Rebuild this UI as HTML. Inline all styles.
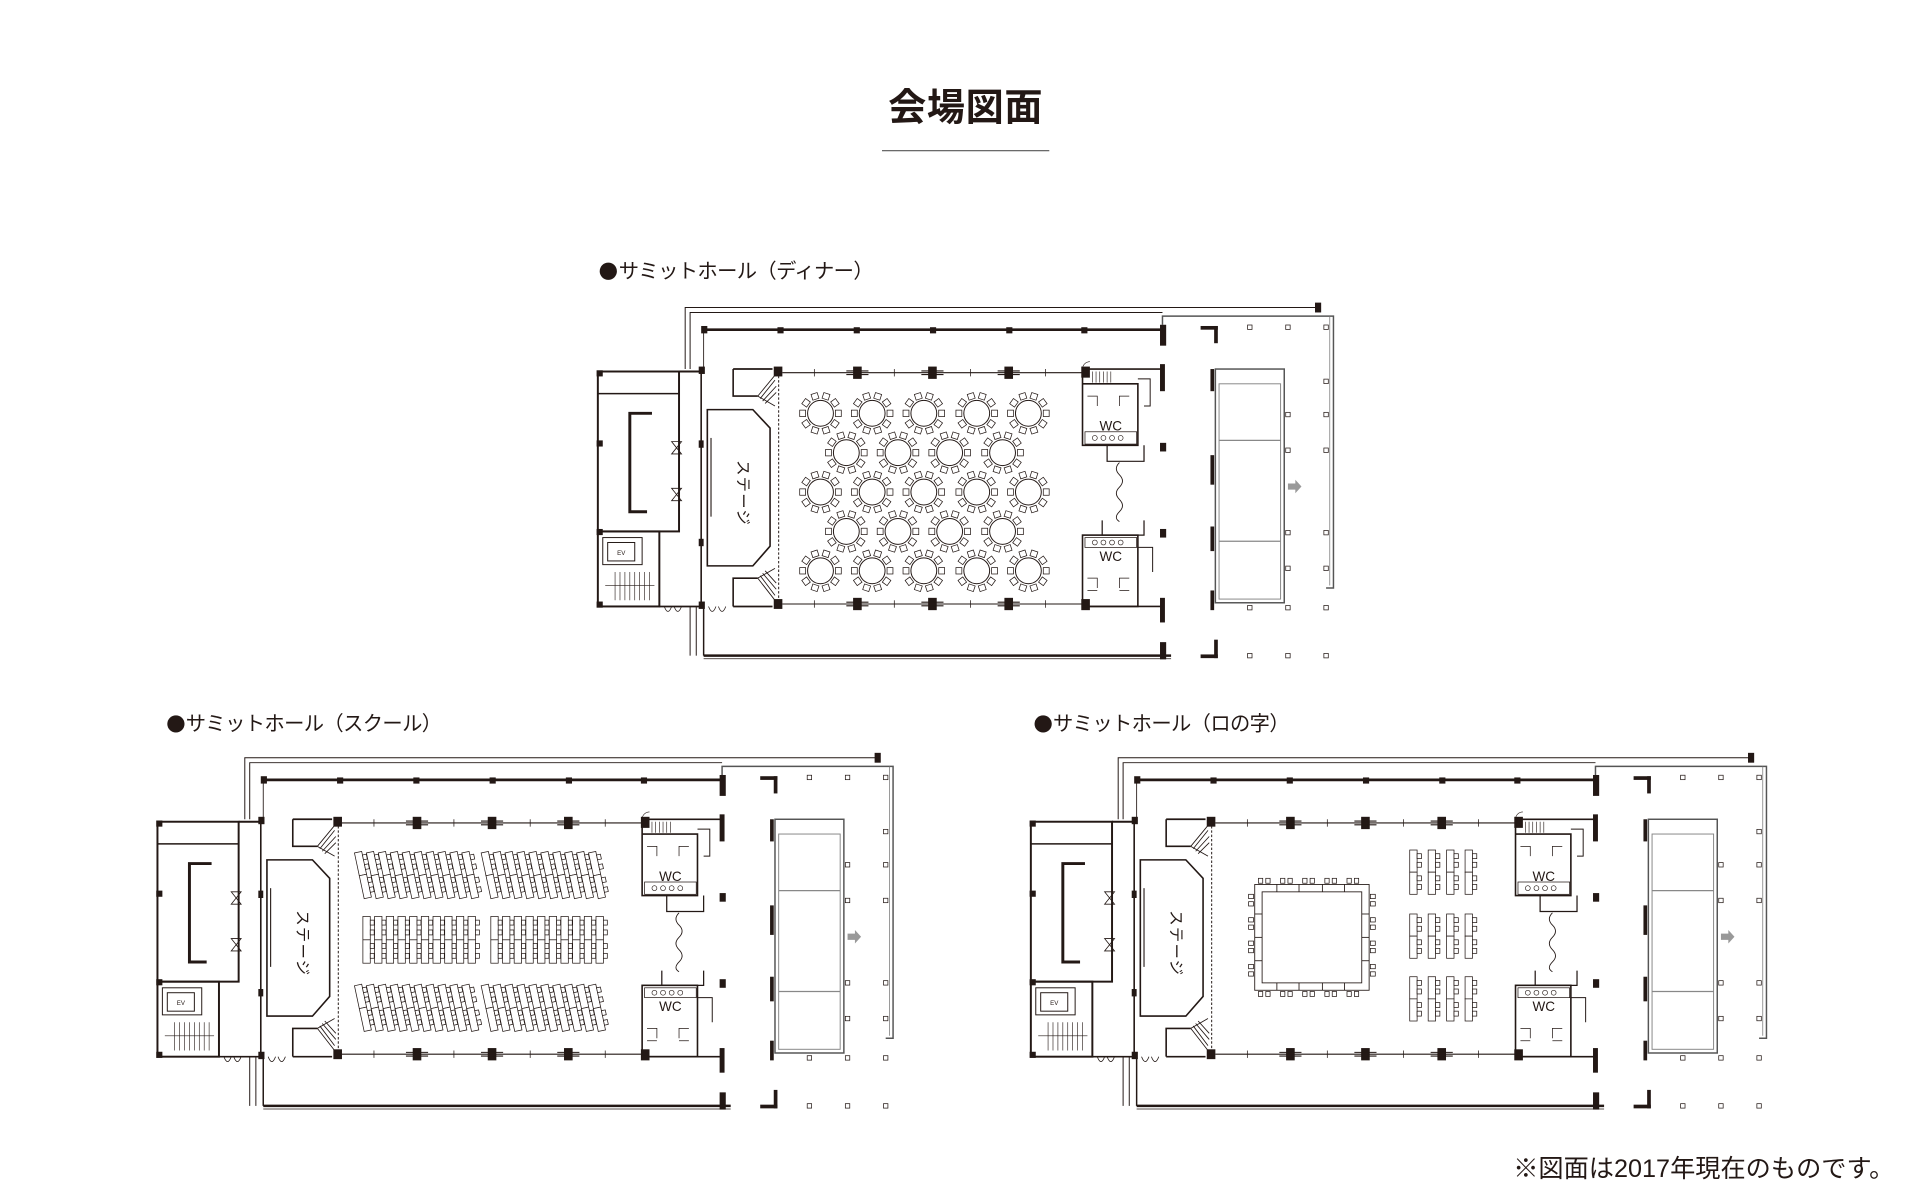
<!DOCTYPE html>
<html><head><meta charset="utf-8"><style>
html,body{margin:0;padding:0;background:#fff}
svg{display:block}
</style></head><body>
<svg width="1919" height="1200" viewBox="0 0 1560 975.5" xmlns="http://www.w3.org/2000/svg" font-family="'Liberation Sans','Noto Sans CJK JP',sans-serif">
<defs>
<g id="chair"><rect x="-2.4" y="-2.6" width="4.8" height="5.2" fill="#fff" stroke="#231815" stroke-width="0.6"/></g>
<g id="tbl">
 <circle r="10.5" fill="#fff" stroke="#231815" stroke-width="0.8"/>
 <g transform="rotate(0)"><use href="#chair" x="14.5"/></g>
 <g transform="rotate(36)"><use href="#chair" x="14.5"/></g>
 <g transform="rotate(72)"><use href="#chair" x="14.5"/></g>
 <g transform="rotate(108)"><use href="#chair" x="14.5"/></g>
 <g transform="rotate(144)"><use href="#chair" x="14.5"/></g>
 <g transform="rotate(180)"><use href="#chair" x="14.5"/></g>
 <g transform="rotate(216)"><use href="#chair" x="14.5"/></g>
 <g transform="rotate(252)"><use href="#chair" x="14.5"/></g>
 <g transform="rotate(288)"><use href="#chair" x="14.5"/></g>
 <g transform="rotate(324)"><use href="#chair" x="14.5"/></g>
</g>
<g id="desk" fill="#fff" stroke="#231815" stroke-width="0.6">
 <rect x="0" y="0" width="6" height="18"/><rect x="0" y="18" width="6" height="18"/>
 <rect x="6" y="3" width="3.5" height="4"/><rect x="6" y="10" width="3.5" height="4"/>
 <rect x="6" y="21" width="3.5" height="4"/><rect x="6" y="28" width="3.5" height="4"/>
</g>
<g id="sdesk" fill="#fff" stroke="#231815" stroke-width="0.6">
 <rect x="0" y="0" width="6" height="19"/><rect x="0" y="19" width="6" height="19"/>
 <rect x="6" y="3" width="3.2" height="4"/><rect x="6" y="11" width="3.2" height="4"/>
 <rect x="6" y="22" width="3.2" height="4"/><rect x="6" y="30" width="3.2" height="4"/>
</g>
<g id="rdesk"><use href="#sdesk" transform="rotate(-12,4.5,19)"/></g>
<g id="sq"><rect x="-1.8" y="-1.8" width="3.6" height="3.6" fill="#fff" stroke="#231815" stroke-width="0.6"/></g>
<g id="post"><rect x="-3" y="-4.5" width="6" height="9" fill="#231815"/><line x1="-9" y1="-1.5" x2="9" y2="-1.5" stroke="#231815" stroke-width="0.9"/><line x1="-9" y1="1.5" x2="9" y2="1.5" stroke="#231815" stroke-width="0.9"/></g>

<g id="plan" stroke="#231815" fill="none">
 <polyline points="557,300 557,250 1072,250" stroke-width="0.8"/>
 <polyline points="561,300 561,254 945,254" stroke-width="0.8"/>
 <rect x="1069" y="246" width="5" height="8" fill="#231815" stroke="none"/>
 <polyline points="945,264 945,257 1084,257 1084,478 1078,478" stroke-width="1.2" stroke="#555"/>
 <line x1="1081" y1="257" x2="1081" y2="476" stroke-width="0.6" stroke="#777"/>
 <line x1="572" y1="268" x2="946" y2="268" stroke-width="2.2"/>
 <g fill="#231815" stroke="none">
  <rect x="570" y="265" width="5" height="6"/><rect x="632" y="266" width="5" height="5"/><rect x="694" y="266" width="5" height="5"/><rect x="756" y="266" width="5" height="5"/><rect x="818" y="266" width="5" height="5"/><rect x="879" y="266" width="5" height="5"/>
  <rect x="943" y="264" width="5" height="17"/><rect x="943" y="296" width="4" height="22"/><rect x="943" y="360" width="5" height="7"/><rect x="943" y="430" width="5" height="7"/><rect x="943" y="486" width="4" height="20"/><rect x="943" y="522" width="5" height="14"/>
  <rect x="976" y="265" width="14" height="3"/><rect x="987" y="265" width="3" height="14"/>
  <rect x="984" y="300" width="3" height="18"/><rect x="984" y="370" width="3" height="24"/><rect x="984" y="428" width="3" height="20"/><rect x="984" y="480" width="3" height="16"/>
  <rect x="987" y="520" width="3" height="15"/><rect x="976" y="532" width="14" height="3"/>
 </g>
 <line x1="572" y1="268" x2="572" y2="300" stroke-width="0.7"/>
 <rect x="486" y="302" width="66" height="130" stroke-width="1.6"/>
 <line x1="486" y1="320" x2="552" y2="320" stroke-width="1.2"/>
 <path d="M530,336 H512 V416 H526" stroke-width="2.4"/>
 <line x1="552" y1="302" x2="572" y2="302" stroke-width="1.6"/>
 <path d="M546,359 L554,359 L546,369 L554,369 Z M546,397 L554,397 L546,407 L554,407 Z" stroke-width="0.7"/>
 <rect x="486" y="432" width="50" height="61" stroke-width="1.6"/>
 <rect x="490" y="437" width="32" height="22" stroke-width="0.8"/>
 <rect x="494" y="441" width="22" height="15" stroke-width="0.8"/>
 <text x="505" y="451" font-size="5" fill="#231815" stroke="none" text-anchor="middle">EV</text>
 <g stroke-width="0.5"><line x1="500" y1="465" x2="500" y2="488"/><line x1="504" y1="465" x2="504" y2="488"/><line x1="508" y1="465" x2="508" y2="488"/><line x1="512" y1="465" x2="512" y2="488"/><line x1="516" y1="465" x2="516" y2="488"/><line x1="520" y1="465" x2="520" y2="488"/><line x1="524" y1="465" x2="524" y2="488"/><line x1="528" y1="465" x2="528" y2="488"/><line x1="492" y1="476" x2="532" y2="476"/></g>
 <g fill="#231815" stroke="none"><rect x="485" y="301" width="5" height="5"/><rect x="485" y="358" width="5" height="5"/><rect x="485" y="430" width="5" height="5"/><rect x="485" y="489" width="5" height="5"/><rect x="568" y="298" width="5" height="6"/><rect x="568" y="489" width="5" height="6"/><rect x="568" y="358" width="4" height="6"/><rect x="568" y="438" width="4" height="6"/></g>
 <line x1="536" y1="493" x2="572" y2="493" stroke-width="1.4"/>
 <path d="M540,493 q3,8 6,0 M548,493 q3,8 6,0 M576,493 q3,8 6,0 M584,493 q3,8 6,0" stroke-width="0.6"/>
 <line x1="570" y1="302" x2="570" y2="493" stroke-width="1.3"/>
 <polyline points="596,300 628,300" stroke-width="1.4"/>
 <polyline points="596,300 596,322 616,322" stroke-width="1.3"/>
 <polyline points="596,493 596,470 616,470" stroke-width="1.3"/>
 <line x1="596" y1="493" x2="628" y2="493" stroke-width="1.4"/>
 <polygon points="575,333 612,333 626,348 626,444 612,460 575,460" stroke-width="1.3"/>
 <line x1="578" y1="356" x2="578" y2="420" stroke-width="0.9"/>
 <g stroke-width="0.7">
  <path d="M616,322 L630,305 M618,324 L630,309 M620,326 L631,314 M622,328 L631,319 M616,322 L630,330"/>
  <path d="M616,470 L630,488 M618,468 L630,484 M620,466 L631,479 M622,464 L631,474 M616,470 L630,462"/>
 </g>
 <line x1="633" y1="302" x2="633" y2="491" stroke-width="0.8" stroke-dasharray="2,1.5"/>
 <rect x="629" y="298" width="7" height="8" fill="#231815" stroke="none"/>
 <rect x="629" y="487" width="7" height="8" fill="#231815" stroke="none"/>
 <text transform="translate(600,374) rotate(90)" font-size="12.5" fill="#231815" stroke="none" letter-spacing="1">ステージ</text>
 <line x1="636" y1="303" x2="880" y2="303" stroke-width="0.9"/>
 <line x1="636" y1="491" x2="880" y2="491" stroke-width="0.9"/>
 <g stroke-width="0.6"><line x1="662" y1="300" x2="662" y2="306"/><line x1="727" y1="300" x2="727" y2="306"/><line x1="789" y1="300" x2="789" y2="306"/><line x1="850" y1="300" x2="850" y2="306"/><line x1="662" y1="488" x2="662" y2="494"/><line x1="727" y1="488" x2="727" y2="494"/><line x1="789" y1="488" x2="789" y2="494"/><line x1="850" y1="488" x2="850" y2="494"/></g>
 <use href="#post" x="697" y="303"/><use href="#post" x="758" y="303"/><use href="#post" x="820" y="303"/>
 <use href="#post" x="697" y="491"/><use href="#post" x="758" y="491"/><use href="#post" x="820" y="491"/>
 <rect x="879" y="298" width="7" height="9" fill="#231815" stroke="none"/>
 <rect x="879" y="487" width="7" height="9" fill="#231815" stroke="none"/>
 <polyline points="880,300 880,362 925,362 925,312 880,312" stroke-width="1.3"/>
 <polyline points="880,300 945,300" stroke-width="1.3"/>
 <g stroke-width="0.5"><line x1="888" y1="302" x2="888" y2="311"/><line x1="891" y1="302" x2="891" y2="311"/><line x1="894" y1="302" x2="894" y2="311"/><line x1="897" y1="302" x2="897" y2="311"/><line x1="900" y1="302" x2="900" y2="311"/><line x1="903" y1="302" x2="903" y2="311"/></g>
 <path d="M880,300 a6,6 0 0 1 6,-6" stroke-width="0.5"/>
 <path d="M884,322 h8 v8 M918,322 h-8 v8" stroke-width="0.6"/>
 <rect x="882" y="351" width="42" height="10" stroke-width="0.6"/>
 <g stroke-width="0.5"><circle cx="890" cy="356" r="2"/><circle cx="897" cy="356" r="2"/><circle cx="904" cy="356" r="2"/><circle cx="911" cy="356" r="2"/></g>
 <polyline points="925,308 935,308 935,330 930,330 M937,335 937,355 930,355" stroke-width="0.8"/>
 <polyline points="900,362 900,375 930,375 930,362" stroke-width="1"/>
 <text x="903" y="350" font-size="11" fill="#231815" stroke="none" text-anchor="middle">WC</text>
 <path d="M910,376 q-5,5 0,10 q5,5 0,10 q-5,5 0,10 q5,5 0,10 q-5,5 0,8" stroke-width="0.7"/>
 <polyline points="896,423 896,435 930,435 930,423 M896,423 938,423" stroke-width="1"/>
 <rect x="880" y="435" width="45" height="58" stroke-width="1.3"/>
 <rect x="882" y="437" width="42" height="8" stroke-width="0.6"/>
 <g stroke-width="0.5"><circle cx="890" cy="441" r="2"/><circle cx="897" cy="441" r="2"/><circle cx="904" cy="441" r="2"/><circle cx="911" cy="441" r="2"/></g>
 <line x1="880" y1="493" x2="945" y2="493" stroke-width="1.3"/>
 <path d="M884,470 h8 v8 M918,470 h-8 v8 M884,480 h8 M918,480 h-8" stroke-width="0.6"/>
 <polyline points="925,445 937,445 937,465 M930,470 940,470" stroke-width="0.8"/>
 <text x="903" y="456" font-size="11" fill="#231815" stroke="none" text-anchor="middle">WC</text>
 <rect x="988" y="300" width="56" height="190" stroke="#555" stroke-width="1.2"/>
 <rect x="991" y="312" width="50" height="175" stroke="#888" stroke-width="0.8"/>
 <line x1="991" y1="358" x2="1041" y2="358" stroke="#888" stroke-width="1"/>
 <line x1="991" y1="440" x2="1041" y2="440" stroke="#888" stroke-width="1"/>
 <path d="M1047,393 h6 v-3 l5,5.5 l-5,5.5 v-3 h-6 z" fill="#999" stroke="none"/>
 <g>
  <use href="#sq" x="1016" y="266"/><use href="#sq" x="1047" y="266"/><use href="#sq" x="1078" y="266"/>
  <use href="#sq" x="1078" y="310"/><use href="#sq" x="1047" y="337"/><use href="#sq" x="1078" y="337"/>
  <use href="#sq" x="1047" y="366"/><use href="#sq" x="1078" y="366"/>
  <use href="#sq" x="1047" y="433"/><use href="#sq" x="1078" y="433"/><use href="#sq" x="1047" y="462"/><use href="#sq" x="1078" y="462"/>
  <use href="#sq" x="1016" y="494"/><use href="#sq" x="1047" y="494"/><use href="#sq" x="1078" y="494"/>
  <use href="#sq" x="1016" y="533"/><use href="#sq" x="1047" y="533"/><use href="#sq" x="1078" y="533"/>
 </g>
 <polyline points="561,493 561,533" stroke-width="0.8"/>
 <polyline points="566,493 566,533" stroke-width="0.8"/>
 <line x1="572" y1="533" x2="952" y2="533" stroke-width="2"/>
 <line x1="572" y1="535.5" x2="952" y2="535.5" stroke-width="0.6"/>
 <line x1="572" y1="493" x2="572" y2="533" stroke-width="1.2"/>
</g>

<g id="srow">
 <use href="#rdesk" x="0"/><use href="#rdesk" x="9.7"/><use href="#rdesk" x="19.4"/><use href="#rdesk" x="29.1"/><use href="#rdesk" x="38.8"/><use href="#rdesk" x="48.5"/><use href="#rdesk" x="58.2"/><use href="#rdesk" x="67.9"/><use href="#rdesk" x="77.6"/><use href="#rdesk" x="87.3"/>
</g>
<g id="mrow">
 <use href="#sdesk" x="0"/><use href="#sdesk" x="9.5"/><use href="#sdesk" x="19"/><use href="#sdesk" x="28.5"/><use href="#sdesk" x="38"/><use href="#sdesk" x="47.5"/><use href="#sdesk" x="57"/><use href="#sdesk" x="66.5"/><use href="#sdesk" x="76"/><use href="#sdesk" x="85.5"/>
</g>
<g id="cls">
 <use href="#desk" x="0"/><use href="#desk" x="15"/><use href="#desk" x="30"/><use href="#desk" x="45"/>
</g>
</defs>

<text x="785" y="98" font-size="31" font-weight="bold" fill="#231815" text-anchor="middle" letter-spacing="0.5">会場図面</text>
<line x1="717" y1="122.5" x2="853" y2="122.5" stroke="#555" stroke-width="1"/>

<circle cx="494.5" cy="220.5" r="7" fill="#231815"/>
<text x="503" y="226" font-size="16.5" fill="#231815" letter-spacing="-0.5">サミットホール（ディナー）</text>
<use href="#plan"/>
<g>
 <use href="#tbl" x="667" y="336"/><use href="#tbl" x="709" y="336"/><use href="#tbl" x="751" y="336"/><use href="#tbl" x="794" y="336"/><use href="#tbl" x="836" y="336"/>
 <use href="#tbl" x="688" y="368"/><use href="#tbl" x="730" y="368"/><use href="#tbl" x="772" y="368"/><use href="#tbl" x="815" y="368"/>
 <use href="#tbl" x="667" y="400"/><use href="#tbl" x="709" y="400"/><use href="#tbl" x="751" y="400"/><use href="#tbl" x="794" y="400"/><use href="#tbl" x="836" y="400"/>
 <use href="#tbl" x="688" y="432"/><use href="#tbl" x="730" y="432"/><use href="#tbl" x="772" y="432"/><use href="#tbl" x="815" y="432"/>
 <use href="#tbl" x="667" y="464"/><use href="#tbl" x="709" y="464"/><use href="#tbl" x="751" y="464"/><use href="#tbl" x="794" y="464"/><use href="#tbl" x="836" y="464"/>
</g>

<circle cx="143" cy="588.5" r="7" fill="#231815"/>
<text x="151" y="594" font-size="16.5" fill="#231815" letter-spacing="-0.5">サミットホール（スクール）</text>
<g transform="translate(-358,366)"><use href="#plan"/></g>
<use href="#srow" x="292" y="692"/><use href="#srow" x="395" y="692"/>
<use href="#mrow" x="295" y="745"/><use href="#mrow" x="399" y="745"/>
<use href="#srow" x="292" y="800"/><use href="#srow" x="395" y="800"/>

<circle cx="848" cy="588.5" r="7" fill="#231815"/>
<text x="856" y="594" font-size="16.5" fill="#231815" letter-spacing="-0.5">サミットホール（ロの字）</text>
<g transform="translate(352,366)"><use href="#plan"/></g>
<g stroke="#231815" fill="#fff" stroke-width="0.7">
 <rect x="1020" y="719" width="93" height="86"/>
 <rect x="1026" y="725" width="81" height="74"/>
 <line x1="1038" y1="719" x2="1038" y2="725"/><line x1="1056" y1="719" x2="1056" y2="725"/><line x1="1075" y1="719" x2="1075" y2="725"/><line x1="1093" y1="719" x2="1093" y2="725"/>
 <line x1="1038" y1="799" x2="1038" y2="805"/><line x1="1056" y1="799" x2="1056" y2="805"/><line x1="1075" y1="799" x2="1075" y2="805"/><line x1="1093" y1="799" x2="1093" y2="805"/>
 <line x1="1020" y1="743" x2="1026" y2="743"/><line x1="1020" y1="762" x2="1026" y2="762"/><line x1="1020" y1="781" x2="1026" y2="781"/>
 <line x1="1107" y1="743" x2="1113" y2="743"/><line x1="1107" y1="762" x2="1113" y2="762"/><line x1="1107" y1="781" x2="1113" y2="781"/>
</g>
<g stroke="#231815" fill="#fff" stroke-width="0.6">
 <g id="chtop"><rect x="1023" y="714" width="3.5" height="4"/><rect x="1029" y="714" width="3.5" height="4"/><rect x="1041" y="714" width="3.5" height="4"/><rect x="1047" y="714" width="3.5" height="4"/><rect x="1059" y="714" width="3.5" height="4"/><rect x="1065" y="714" width="3.5" height="4"/><rect x="1077" y="714" width="3.5" height="4"/><rect x="1083" y="714" width="3.5" height="4"/><rect x="1095" y="714" width="3.5" height="4"/><rect x="1101" y="714" width="3.5" height="4"/></g>
 <use href="#chtop" y="92"/>
 <g id="chleft"><rect x="1015" y="727" width="4" height="3.5"/><rect x="1015" y="733" width="4" height="3.5"/><rect x="1015" y="746" width="4" height="3.5"/><rect x="1015" y="752" width="4" height="3.5"/><rect x="1015" y="765" width="4" height="3.5"/><rect x="1015" y="771" width="4" height="3.5"/><rect x="1015" y="784" width="4" height="3.5"/><rect x="1015" y="790" width="4" height="3.5"/></g>
 <use href="#chleft" x="99"/>
</g>
<use href="#cls" x="1146" y="691"/>
<use href="#cls" x="1146" y="743"/>
<use href="#cls" x="1146" y="794"/>

<text x="1540" y="957" font-size="20.5" fill="#231815" text-anchor="end">※図面は2017年現在のものです。</text>
</svg>
</body></html>
